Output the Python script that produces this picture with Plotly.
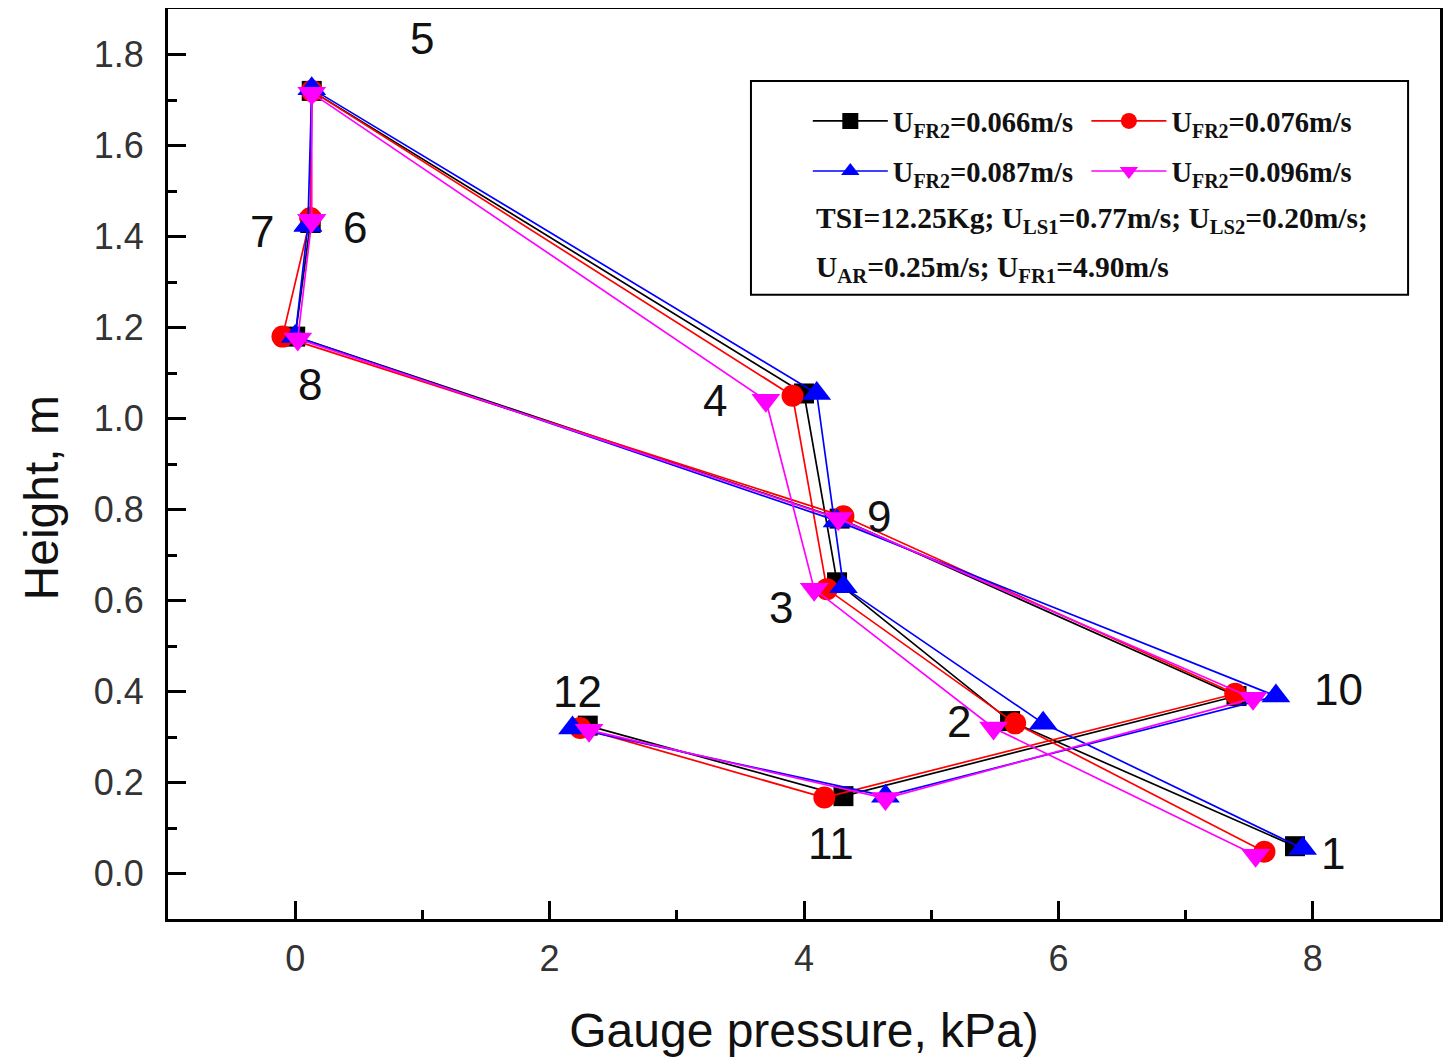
import plotly.graph_objects as go

# Measurement points 1..12 (path order)
points = ["1", "2", "3", "4", "5", "6", "7", "8", "9", "10", "11", "12"]

p_066 = [7.86, 5.62, 4.26, 4.00, 0.13, 0.12, 0.12, 0.00, 4.28, 7.40, 4.31, 2.30]
h_066 = [0.060, 0.335, 0.640, 1.055, 1.720, 1.430, 1.430, 1.180, 0.780, 0.390, 0.170, 0.325]

p_076 = [7.62, 5.66, 4.18, 3.91, 0.13, 0.12, 0.12, -0.10, 4.31, 7.39, 4.16, 2.24]
h_076 = [0.048, 0.330, 0.625, 1.050, 1.720, 1.440, 1.440, 1.180, 0.785, 0.395, 0.167, 0.320]

p_087 = [7.92, 5.88, 4.31, 4.10, 0.13, 0.10, 0.10, 0.00, 4.26, 7.71, 4.64, 2.18]
h_087 = [0.055, 0.330, 0.630, 1.055, 1.725, 1.425, 1.425, 1.180, 0.775, 0.390, 0.170, 0.320]

p_096 = [7.55, 5.49, 4.08, 3.70, 0.13, 0.13, 0.13, 0.02, 4.27, 7.53, 4.64, 2.31]
h_096 = [0.040, 0.320, 0.625, 1.040, 1.715, 1.435, 1.435, 1.175, 0.780, 0.385, 0.165, 0.315]

series_names = ["U<sub>FR2</sub>=0.066m/s", "U<sub>FR2</sub>=0.076m/s",
                "U<sub>FR2</sub>=0.087m/s", "U<sub>FR2</sub>=0.096m/s"]
series_colors = ["#000000", "#ff0000", "#0000ff", "#ff00ff"]
series_symbols = ["square", "circle", "triangle-up", "triangle-down"]
series_legend = ["legend", "legend2", "legend", "legend2"]

x_title = "Gauge pressure, kPa)"
y_title = "Height, m"

# point label positions
label_text = ["5", "7", "6", "8", "4", "9", "3", "12", "10", "2", "11", "1"]
label_x = [1.00, -0.26, 0.47, 0.12, 3.30, 4.59, 3.82, 2.22, 8.20, 5.22, 4.21, 8.16]
label_y = [1.835, 1.41, 1.42, 1.075, 1.04, 0.785, 0.585, 0.40, 0.405, 0.335, 0.065, 0.044]

fig = go.Figure()
data = [(p_066, h_066), (p_076, h_076), (p_087, h_087), (p_096, h_096)]
sizes = [20, 22, 25, 25]
for i, ((px, hy), name, col, sym, sz, lg) in enumerate(
        zip(data, series_names, series_colors, series_symbols, sizes, series_legend)):
    fig.add_trace(go.Scatter(
        x=px, y=hy, mode="lines+markers", name=name,
        legend=lg, legendgroup="g%d" % i,
        line=dict(color=col, width=1.7),
        marker=dict(symbol=sym, size=sz, color=col),
    ))

for t, x, y in zip(label_text, label_x, label_y):
    fig.add_annotation(x=x, y=y, text=t, showarrow=False,
                       font=dict(family="Liberation Sans, Arial", size=44, color="#111"))

# legend box
fig.add_shape(type="rect", xref="paper", yref="paper",
              x0=0.4583, x1=0.9749, y0=0.686, y1=0.9209,
              line=dict(color="black", width=2), fillcolor="rgba(0,0,0,0)")

legend_font = dict(family="Liberation Serif, Times New Roman", size=29.5, color="#111")
fig.add_annotation(xref="paper", yref="paper", x=0.508, y=0.768, xanchor="left", yanchor="middle",
                   text="<b>TSI=12.25Kg; U<sub>LS1</sub>=0.77m/s; U<sub>LS2</sub>=0.20m/s;</b>",
                   showarrow=False, font=legend_font)
fig.add_annotation(xref="paper", yref="paper", x=0.508, y=0.714, xanchor="left", yanchor="middle",
                   text="<b>U<sub>AR</sub>=0.25m/s; U<sub>FR1</sub>=4.90m/s</b>",
                   showarrow=False, font=legend_font)

# y-axis title (placed as in the reference, slightly below centre)
fig.add_annotation(xref="paper", yref="paper", x=-0.0995, y=0.4626, xanchor="center", yanchor="middle",
                   text=y_title, textangle=-90, showarrow=False,
                   font=dict(family="Liberation Sans, Arial", size=48, color="#111"))

axis_common = dict(
    showline=True, linecolor="black", linewidth=3, mirror=True,
    ticks="inside", tickcolor="black", tickwidth=2.5, ticklen=18,
    showgrid=False, zeroline=False, automargin=False,
    tickfont=dict(family="Liberation Sans, Arial", size=36, color="#333"),
)

fig.update_xaxes(range=[-1, 9], tickvals=[0, 2, 4, 6, 8],
                 minor=dict(ticks="inside", ticklen=9, tickwidth=2.5, tickcolor="black", dtick=1, tick0=0),
                 ticklabelstandoff=6,
                 title=dict(text=x_title, standoff=36,
                            font=dict(family="Liberation Sans, Arial", size=48, color="#111")),
                 **axis_common)
fig.update_yaxes(range=[-0.1, 1.9], tickvals=[0, 0.2, 0.4, 0.6, 0.8, 1.0, 1.2, 1.4, 1.6, 1.8],
                 tickformat=".1f", ticklabelstandoff=14,
                 minor=dict(ticks="inside", ticklen=9, tickwidth=2.5, tickcolor="black", dtick=0.1, tick0=0),
                 **axis_common)

leg_common = dict(
    orientation="v", yanchor="middle", xanchor="left",
    bgcolor="rgba(0,0,0,0)", borderwidth=0,
    font=dict(family="Liberation Serif, Times New Roman", size=28.5, color="#111", weight="bold"),
    itemwidth=75, tracegroupgap=10,
)

fig.update_layout(
    width=1444, height=1052,
    margin=dict(l=160, r=12, t=1, b=141),
    plot_bgcolor="white", paper_bgcolor="white",
    showlegend=True,
    legend=dict(x=0.503, y=0.849, **leg_common),
    legend2=dict(x=0.722, y=0.849, **leg_common),
)

fig.write_html("out.html")
